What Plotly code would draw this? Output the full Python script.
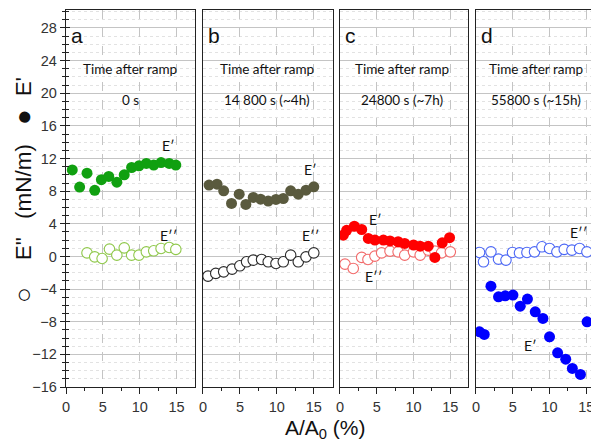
import plotly.graph_objects as go

# ---------------- data ----------------
panels = ["a", "b", "c", "d"]
times = ["0 s", "14 800 s (~4h)", "24800 s (~7h)", "55800 s (~15h)"]

a_x_Ep = [0.85, 1.85, 2.85, 3.9, 4.8, 5.8, 6.9, 7.9, 8.9, 9.9, 10.9, 11.9, 12.9, 14.0, 14.9]
a_Ep = [10.6, 8.5, 10.2, 8.1, 9.4, 9.8, 9.1, 10.0, 10.9, 11.1, 11.4, 11.2, 11.5, 11.4, 11.2]
a_x_Epp = [2.85, 3.9, 4.9, 5.9, 6.9, 7.9, 8.9, 9.9, 10.9, 11.9, 12.9, 14.0, 14.9]
a_Epp = [0.44, -0.05, -0.25, 0.89, 0.16, 1.05, 0.16, 0.16, 0.56, 0.69, 0.98, 1.1, 0.86]

b_x_Ep = [0.82, 1.9, 2.8, 3.86, 4.9, 5.8, 6.8, 7.8, 8.83, 9.88, 10.87, 11.87, 12.9, 13.95, 15.0]
b_Ep = [8.74, 8.86, 8.04, 6.5, 7.63, 6.37, 7.23, 7.02, 6.78, 6.98, 7.1, 8.04, 7.63, 8.12, 8.53]
b_x_Epp = [0.68, 1.73, 2.8, 3.94, 4.99, 5.9, 6.8, 7.93, 8.83, 9.88, 10.87, 11.87, 12.9, 13.95, 15.0]
b_Epp = [-2.41, -2.08, -1.89, -1.56, -1.15, -0.66, -0.45, -0.37, -0.66, -0.86, -0.66, 0.16, -0.66, -0.05, 0.44]

c_x_Ep = [0.45, 0.9, 1.95, 2.95, 3.85, 4.75, 5.9, 6.8, 7.9, 8.8, 10.0, 10.9, 12.0, 12.9, 13.9, 14.9]
c_Ep = [2.6, 3.2, 3.7, 3.3, 2.2, 2.0, 2.0, 1.9, 1.8, 1.6, 1.4, 1.26, 1.26, -0.12, 1.67, 2.3]
c_x_Epp = [0.68, 1.8, 2.95, 3.8, 4.75, 5.66, 6.8, 7.9, 8.8, 10.0, 10.9, 12.0, 12.9, 13.8, 15.0]
c_Epp = [-0.94, -1.47, -0.12, -0.37, 0.04, 0.44, 0.65, 0.56, 0.16, 0.56, 0.16, 0.77, 0.65, 0.44, 0.56]

d_x_Ep = [0.49, 1.13, 2.04, 3.07, 3.98, 5.03, 6.02, 7.0, 8.06, 9.1, 10.0, 11.1, 12.2, 13.1, 14.2, 15.1]
d_Ep = [-9.24, -9.56, -3.64, -4.95, -4.83, -4.74, -6.09, -5.23, -6.79, -7.6, -9.85, -11.81, -12.59, -13.73, -14.46, -8.01]
d_x_Epp = [0.49, 1.03, 2.04, 3.07, 4.08, 4.97, 5.92, 6.93, 7.96, 8.97, 10.0, 11.0, 12.0, 13.04, 14.08, 15.08]
d_Epp = [0.49, -0.66, 0.56, -0.33, -0.45, 0.49, 0.44, 0.49, 0.56, 1.18, 0.98, 0.56, 0.86, 0.77, 0.98, 0.56]

y_tick_vals = [-16, -12, -8, -4, 0, 4, 8, 12, 16, 20, 24, 28]
x_tick_vals = [0, 5, 10, 15]
y_title_parts = ["○", "E''", "(mN/m)", "●", "E'"]

# ---------------- styling ----------------
fill_cols = ["#10a010", "#5a5a3e", "#ff0000", "#0000ff"]
open_cols = ["#8fc84a", "#2a2a2a", "#f26a6a", "#4a66f5"]
ep_lbl = [(13.9, 13.6), (14.5, 10.6), (4.8, 4.5), (7.4, -10.9)]
epp_lbl = [(13.9, 2.6), (14.5, 2.6), (4.5, -2.5), (13.9, 2.9)]
time_x = [8.7, 8.6, 8.4, 8.2]
y_title_pos = [295, 249, 182, 117, 87]      # vertical pixel centres
y_title_size = [26, 22, 22.5, 26, 22]

series = [
    (a_x_Ep, a_Ep, a_x_Epp, a_Epp),
    (b_x_Ep, b_Ep, b_x_Epp, b_Epp),
    (c_x_Ep, c_Ep, c_x_Epp, c_Epp),
    (d_x_Ep, d_Ep, d_x_Epp, d_Epp),
]

domains = [[0.0, 0.2429], [0.258, 0.5028], [0.516, 0.757], [0.772, 1.0]]
xranges = [[0, 17.5], [0, 17.6], [0, 17.4], [0, 16.45]]
yrange = [-16, 30.2]

TXT = "Lato"
AX = "Liberation Sans"

# page body has an 8px margin: figure is shifted by (8, 8)
OFF = 8
W, H = 599 - OFF, 445 - OFF
L, T, R = 66 - OFF, 10 - OFF, 2
B = H - (387 - OFF)
PW, PH = W - L - R, H - T - B


def px_x(p):
    return (p - OFF - L) / PW


def px_y(p):
    return (H - B - (p - OFF)) / PH


fig = go.Figure()
annotations = []
layout = dict(
    width=W, height=H,
    margin=dict(l=L, r=R, t=T, b=B, autoexpand=False),
    paper_bgcolor="white", plot_bgcolor="white",
    showlegend=False,
)

for i in range(4):
    sx = "" if i == 0 else str(i + 1)
    xr, yr = "x" + sx, "y" + sx
    xe, ye, xo, yo = series[i]
    fig.add_trace(go.Scatter(x=xo, y=yo, mode="markers", xaxis=xr, yaxis=yr,
                             marker=dict(size=10.5, color="white", symbol="circle",
                                         line=dict(color=open_cols[i], width=1.1))))
    fig.add_trace(go.Scatter(x=xe, y=ye, mode="markers", xaxis=xr, yaxis=yr,
                             marker=dict(size=11, color=fill_cols[i], line=dict(width=0))))
    layout["xaxis" + sx] = dict(
        domain=domains[i], range=xranges[i], anchor=yr,
        tickvals=x_tick_vals, ticks="outside", ticklen=6, tickwidth=1.2, tickcolor="#222",
        minor=dict(tickvals=[2.5, 7.5, 12.5], ticks="outside", ticklen=3, tickcolor="#222", showgrid=False),
        showline=True, linecolor="#222", linewidth=1.4, mirror=True,
        showgrid=True, gridcolor="#c4c4c4", griddash="dash", gridwidth=1,
        zeroline=False, automargin=False,
        tickfont=dict(family=AX, size=14.5, color="#333"),
    )
    ydict = dict(
        domain=[0, 1], range=yrange, anchor=xr,
        tickvals=y_tick_vals, automargin=False,
        showline=True, linecolor="#222", linewidth=1.4, mirror=True,
        showgrid=True, gridcolor="#c4c4c4", gridwidth=1, zeroline=False,
        minor=dict(dtick=1, tick0=0, showgrid=True, gridcolor="#e2e2e2", griddash="dot", gridwidth=1,
                   ticks="outside" if i == 0 else "", ticklen=3, tickcolor="#222"),
        tickfont=dict(family=AX, size=14.5, color="#333"),
    )
    if i == 0:
        ydict.update(ticks="outside", ticklen=5, tickwidth=1.2, tickcolor="#222", showticklabels=True)
    else:
        ydict.update(ticks="", showticklabels=False)
    layout["yaxis" + sx] = ydict

    annotations.append(dict(x=0.35, y=27.1, xref=xr, yref=yr, text=panels[i], showarrow=False,
                            xanchor="left", yanchor="middle",
                            font=dict(family=AX, size=21, color="#111")))
    annotations.append(dict(x=time_x[i], y=23.0, xref=xr, yref=yr, text="Time after ramp",
                            showarrow=False, xanchor="center", yanchor="middle",
                            font=dict(family=TXT, size=13.5, color="#111")))
    annotations.append(dict(x=time_x[i], y=19.15, xref=xr, yref=yr, text=times[i],
                            showarrow=False, xanchor="center", yanchor="middle",
                            font=dict(family=TXT, size=13.5, color="#111")))
    annotations.append(dict(x=ep_lbl[i][0], y=ep_lbl[i][1], xref=xr, yref=yr, text="E′",
                            showarrow=False, xanchor="center", yanchor="middle",
                            font=dict(family=TXT, size=14, color="#111")))
    annotations.append(dict(x=epp_lbl[i][0], y=epp_lbl[i][1], xref=xr, yref=yr, text="E′′",
                            showarrow=False, xanchor="center", yanchor="middle",
                            font=dict(family=TXT, size=14, color="#111")))

# inner half of crossing y ticks on panel a
layout["yaxis5"] = dict(overlaying="y", anchor="x", side="left", range=yrange, tickvals=y_tick_vals,
                        ticks="inside", ticklen=4, tickwidth=1.2, tickcolor="#222",
                        minor=dict(dtick=1, tick0=0, ticks="inside", ticklen=3, tickcolor="#222", showgrid=False),
                        showticklabels=False, showgrid=False, zeroline=False, showline=False)
fig.add_trace(go.Scatter(x=[1], y=[1], xaxis="x", yaxis="y5", mode="markers",
                         marker=dict(opacity=0), showlegend=False, hoverinfo="skip"))

# y axis title, in pieces
for txt, yp, fs in zip(y_title_parts, y_title_pos, y_title_size):
    annotations.append(dict(x=px_x(23), y=px_y(yp), xref="paper", yref="paper",
                            xanchor="center", yanchor="middle",
                            text=txt, textangle=-90, showarrow=False,
                            font=dict(family=AX, size=fs, color="#111")))
annotations.append(dict(x=px_x(325), y=px_y(429), xref="paper", yref="paper",
                        xanchor="center", yanchor="middle",
                        text="A/A<sub>0</sub> (%)", showarrow=False,
                        font=dict(family=AX, size=21, color="#111")))

layout["annotations"] = annotations
fig.update_layout(**layout)
fig.write_html("out.html")
